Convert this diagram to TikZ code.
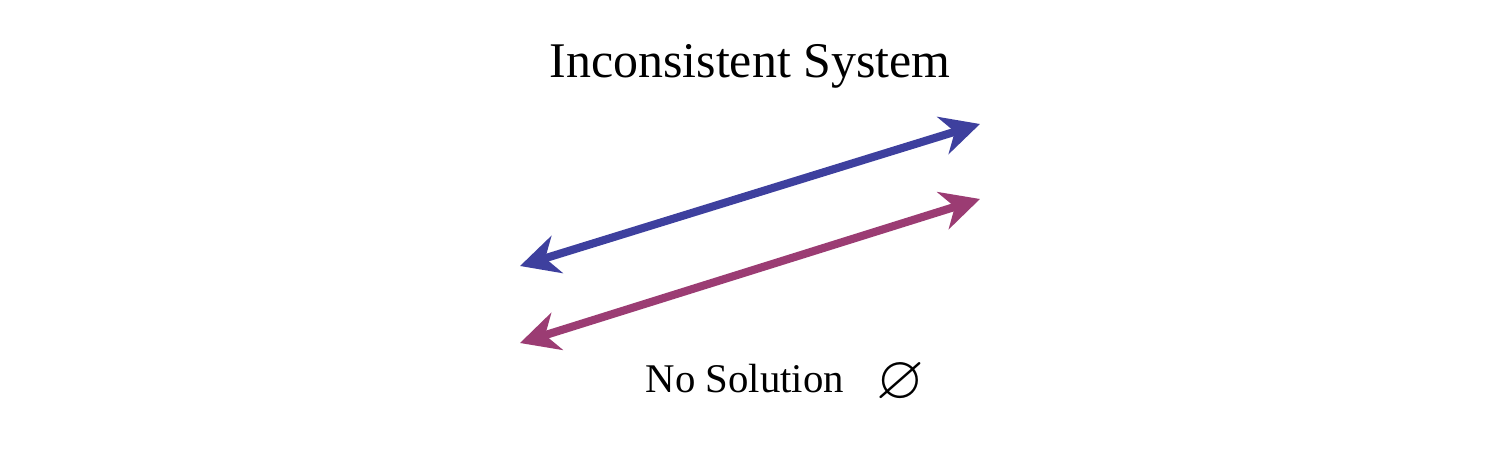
\documentclass[tikz,border=0pt]{standalone}
\usepackage{amssymb}
\usepackage{fontspec}
\setmainfont{Liberation Serif}
\usetikzlibrary{arrows.meta}
\begin{document}
\begin{tikzpicture}
	\tikzstyle{lineedge} = [{Stealth[length=11pt,width=11pt,inset=3.5pt]}-{Stealth[length=11pt,width=11pt,inset=3.5pt]}, line width=2.3pt]
	\tikzstyle{caption} = [anchor=base west, inner sep=0pt]

	\definecolor{lineblue}{RGB}{62,64,158}
	\definecolor{linemagenta}{RGB}{155,60,115}

	\useasboundingbox (0,0) rectangle (15,4.5);

	% NODES %
	\node[caption, font=\fontsize{14.2}{17}\selectfont] (title) at (5.49,3.72) {Inconsistent System};
	\node[caption, font=\fontsize{11.6}{14}\selectfont] (nosol) at (6.45,0.58) {No Solution};
	\node[caption, font=\fontsize{17.5}{20}\selectfont] (empty) at (8.76,0.52) {$\varnothing$};

	\coordinate (b1) at (5.20,1.84);
	\coordinate (b2) at (9.80,3.26);
	\coordinate (m1) at (5.20,1.07);
	\coordinate (m2) at (9.80,2.51);

	% EDGES %
	\draw[lineedge, color=lineblue] (b1) -- (b2);
	\draw[lineedge, color=linemagenta] (m1) -- (m2);
\end{tikzpicture}
\end{document}
